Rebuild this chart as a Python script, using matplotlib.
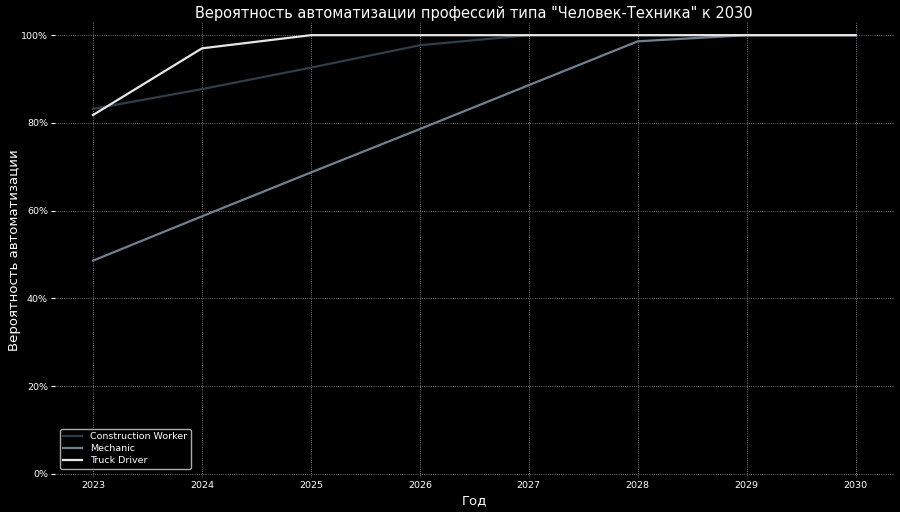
import matplotlib
matplotlib.use("Agg")
import matplotlib.pyplot as plt
from matplotlib.ticker import PercentFormatter

years = [2023, 2024, 2025, 2026, 2027, 2028, 2029, 2030]
construction_worker = [0.832, 0.877, 0.926, 0.977, 1.0, 1.0, 1.0, 1.0]
mechanic = [0.486, 0.587, 0.687, 0.786, 0.886, 0.986, 1.0, 1.0]
truck_driver = [0.818, 0.970, 1.0, 1.0, 1.0, 1.0, 1.0, 1.0]

series = [
    ("Construction Worker", construction_worker, "#2f3e48"),
    ("Mechanic", mechanic, "#708090"),
    ("Truck Driver", truck_driver, "#e6e6e6"),
]

fig = plt.figure(figsize=(9, 5.12), dpi=100, facecolor="black")
ax = fig.add_axes([0.061, 0.066, 0.932, 0.891], facecolor="black")

for name, vals, col in series:
    ax.plot(years, vals, color=col, linewidth=1.6, label=name)

ax.set_ylim(-0.01, 1.03)
ax.set_xlim(2022.65, 2030.35)
ax.yaxis.set_major_formatter(PercentFormatter(1.0, decimals=0))
ax.set_yticks([0, 0.2, 0.4, 0.6, 0.8, 1.0])
ax.set_xticks(years)
ax.grid(True, color="white", linestyle=":", linewidth=0.6, alpha=0.6)
for s in ax.spines.values():
    s.set_visible(False)
ax.tick_params(colors="white", labelsize=6.8, length=3, pad=2)
ax.tick_params(axis="x", length=0, pad=2)

ax.set_title('Вероятность автоматизации профессий типа "Человек-Техника" к 2030',
             color="white", fontsize=10.5, pad=3)
ax.set_xlabel("Год", color="white", fontsize=9.5, labelpad=3)
ax.set_ylabel("Вероятность автоматизации", color="white", fontsize=9.5, labelpad=0)

leg = ax.legend(loc="lower left", fontsize=6.8, facecolor="black",
                edgecolor="#aaaaaa", labelcolor="white", framealpha=1,
                borderpad=0.4, labelspacing=0.3, handlelength=2.0,
                bbox_to_anchor=(0.0, 0.01))

fig.savefig("out.png", dpi=100, facecolor="black")
